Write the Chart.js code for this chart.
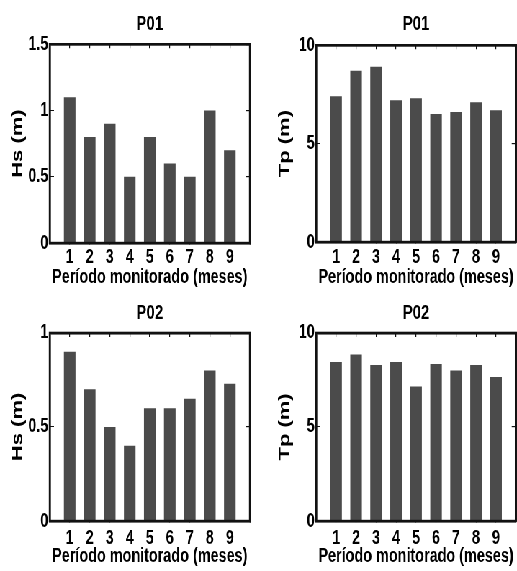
<!DOCTYPE html>
<html lang="pt">
<head>
<meta charset="utf-8">
<title>Hs e Tp - P01 / P02</title>
<script src="https://cdn.jsdelivr.net/npm/chart.js@4.4.0/dist/chart.umd.min.js"></script>
<style>
    body { margin: 0; background: #fff; overflow: hidden; }
    #wrap { position: absolute; left: 0; top: 0; width: 718px; height: 571px;
            transform: scaleX(0.72); transform-origin: 0 0; }
    #wrap canvas { position: absolute; }
</style>
</head>
<body>
<div id="wrap">
    <canvas id="hs1" width="358" height="290" style="left:0;top:0"></canvas>
    <canvas id="tp1" width="360" height="290" style="left:358px;top:0"></canvas>
    <canvas id="hs2" width="358" height="281" style="left:0;top:290px"></canvas>
    <canvas id="tp2" width="360" height="281" style="left:358px;top:290px"></canvas>
</div>
<script>
    // dados
    const meses = [1, 2, 3, 4, 5, 6, 7, 8, 9];
    const hsP01 = [1.1, 0.8, 0.9, 0.5, 0.8, 0.6, 0.5, 1.0, 0.7];
    const tpP01 = [7.4, 8.7, 8.9, 7.2, 7.3, 6.5, 6.6, 7.1, 6.7];
    const hsP02 = [0.9, 0.7, 0.5, 0.4, 0.6, 0.6, 0.65, 0.8, 0.73];
    const tpP02 = [8.45, 8.85, 8.3, 8.45, 7.15, 8.35, 8.0, 8.3, 7.65];
    const hsTicksP01 = [0, 0.5, 1, 1.5];
    const hsTicksP02 = [0, 0.5, 1];
    const tpTicks = [0, 5, 10];
    const xTitulo = 'Período monitorado (meses)';

    const FONTE = "'Liberation Sans', Arial, sans-serif";
    const PRETO = '#111';
    const NADA = 'rgba(0,0,0,0)';
    const XMAX = 10;

    // moldura completa (caso o plugin seja desenhado)
    const moldura = {
        id: 'moldura',
        afterDraw(chart) {
            try {
                const ctx = chart.ctx;
                const a = chart.chartArea;
                ctx.save();
                ctx.strokeStyle = PRETO;
                ctx.lineWidth = 2.4;
                ctx.strokeRect(a.left, a.top, a.right - a.left, a.bottom - a.top);
                ctx.restore();
            } catch (e) {
                console.error(e);
            }
        }
    };

    // eixo so com moldura e marcas para dentro (estilo matlab)
    function eixoMoldura(pos, lista, min, max, larguraBorda, marca) {
        return {
            type: 'linear',
            position: pos,
            min: min,
            max: max,
            offset: false,
            afterBuildTicks: s => { s.ticks = lista.map(v => ({ value: v })); },
            afterFit: s => {
                if (pos === 'top') s.height = 0; else s.width = 0;
                s.paddingLeft = 0; s.paddingRight = 0; s.paddingTop = 0; s.paddingBottom = 0;
            },
            ticks: { display: false },
            border: { display: true, color: PRETO, width: larguraBorda },
            grid: { display: true, offset: false, drawOnChartArea: false, drawTicks: true, tickLength: -marca,
                    color: PRETO, lineWidth: 1.2 }
        };
    }

    function painel(id, titulo, rotulo, valores, yTicks, cfg) {
        const ymin = yTicks[0];
        const ymax = yTicks[yTicks.length - 1];
        new Chart(document.getElementById(id), {
            type: 'bar',
            data: {
                datasets: [{
                    data: valores.map((v, i) => ({ x: meses[i], y: v })),
                    backgroundColor: '#4b4b4b',
                    borderWidth: 0,
                    barPercentage: 0.58,
                    categoryPercentage: 1
                }]
            },
            options: {
                responsive: false,
                animation: false,
                events: [],
                layout: { padding: { right: cfg.right } },
                plugins: {
                    legend: { display: false },
                    tooltip: { enabled: false },
                    title: {
                        display: true,
                        text: titulo,
                        fullSize: false,
                        color: '#000',
                        font: { family: FONTE, size: 21, weight: 'bold', lineHeight: 1.2 },
                        padding: { top: cfg.tTop, bottom: cfg.tBottom }
                    }
                },
                scales: {
                    x: {
                        type: 'linear',
                        min: 0,
                        max: XMAX,
                        offset: false,
                        border: { display: true, color: PRETO, width: 2.4 },
                        grid: {
                            display: true,
                            offset: false,
                            drawOnChartArea: true,
                            drawTicks: true,
                            tickLength: -4,
                            // so a linha do limite direito aparece no grafico: vira a borda direita
                            color: c => (c.tick && c.tick.value === XMAX ? PRETO : NADA),
                            lineWidth: c => (c.tick && c.tick.value === XMAX ? 2.6 : 1),
                            tickColor: PRETO,
                            tickWidth: 1.2
                        },
                        afterBuildTicks: s => { s.ticks = meses.concat([XMAX]).map(v => ({ value: v })); },
                        afterFit: s => { s.height = cfg.xh; s.paddingLeft = 0; s.paddingRight = 0; },
                        ticks: {
                            color: '#000',
                            padding: cfg.xPad + 12,
                            autoSkip: false,
                            maxRotation: 0,
                            callback: v => (meses.includes(v) ? String(v) : ''),
                            font: { family: FONTE, size: 20, weight: 'bold' }
                        },
                        title: {
                            display: true,
                            text: xTitulo,
                            color: '#000',
                            font: { family: FONTE, size: 20, weight: 'bold', lineHeight: 1 },
                            padding: { top: 0, bottom: cfg.xtPad }
                        }
                    },
                    x2: eixoMoldura('top', meses, 0, XMAX, 2, 4),
                    y: {
                        min: ymin,
                        max: ymax,
                        border: { display: true, color: PRETO, width: 2.6 },
                        grid: {
                            display: true,
                            offset: false,
                            drawOnChartArea: true,
                            drawTicks: true,
                            tickLength: -6,
                            // linha do topo vira a borda superior
                            color: c => (c.tick && c.tick.value === ymax ? PRETO : NADA),
                            lineWidth: c => (c.tick && c.tick.value === ymax ? 2.4 : 1),
                            tickColor: PRETO,
                            tickWidth: 1
                        },
                        afterBuildTicks: s => { s.ticks = yTicks.map(v => ({ value: v })); },
                        afterFit: s => { s.width = cfg.yw; s.paddingTop = 0; s.paddingBottom = 0; },
                        ticks: {
                            color: '#000',
                            padding: 8,
                            callback: v => String(v),
                            font: { family: FONTE, size: 20, weight: 'bold' }
                        },
                        title: {
                            display: true,
                            text: rotulo,
                            color: '#000',
                            font: { family: FONTE, size: 22, weight: 'bold', lineHeight: 1.2 },
                            padding: { top: cfg.ytPad, bottom: 0 }
                        }
                    },
                    y2: eixoMoldura('right', yTicks, ymin, ymax, 2.6, 6)
                }
            },
            plugins: [moldura]
        });
    }

    painel('hs1', 'P01', 'Hs (m)', hsP01, hsTicksP01,
        { right: 11, yw: 69, ytPad: 12, tTop: 12, tBottom: 7, xh: 47, xPad: -5.4, xtPad: 3 });
    painel('tp1', 'P01', 'Tp (m)', tpP01, tpTicks,
        { right: 1.3, yw: 81, ytPad: 25, tTop: 12, tBottom: 8, xh: 48, xPad: -4.4, xtPad: 3 });
    painel('hs2', 'P02', 'Hs (m)', hsP02, hsTicksP02,
        { right: 11, yw: 69, ytPad: 12, tTop: 11, tBottom: 6.7, xh: 50, xPad: -2.5, xtPad: 4.3 });
    painel('tp2', 'P02', 'Tp (m)', tpP02, tpTicks,
        { right: 1.3, yw: 81, ytPad: 25, tTop: 11, tBottom: 6.7, xh: 50, xPad: -2.5, xtPad: 4.3 });
</script>
</body>
</html>
